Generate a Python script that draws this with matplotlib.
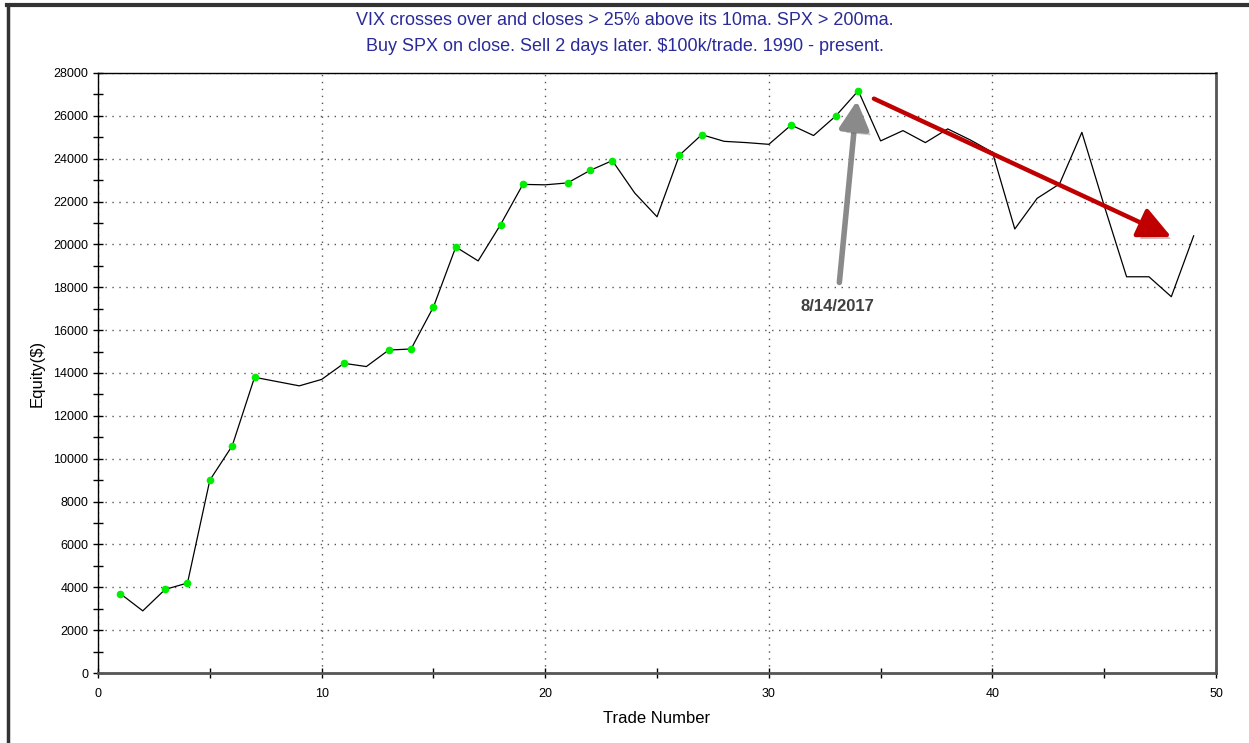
import matplotlib
matplotlib.use("Agg")
import matplotlib.pyplot as plt
import matplotlib.patheffects as pe
from matplotlib.lines import Line2D

plt.rcParams['font.family'] = ['Liberation Sans', 'DejaVu Sans']

# Equity curve, one value per trade
trades = list(range(1, 50))
equity = [3700, 2900, 3900, 4200, 9000, 10600, 13800, 13600, 13400, 13700,
          14450, 14300, 15070, 15120, 17080, 19880, 19230, 20920, 22800, 22780,
          22870, 23450, 23910, 22400, 21290, 24160, 25120, 24810, 24750, 24670,
          25570, 25080, 26000, 27170, 24830, 25310, 24750, 25390, 24880, 24300,
          20720, 22150, 22820, 25230, 21800, 18490, 18490, 17560, 20400]
# trades that set a new equity high (green dots)
new_highs = [1, 3, 4, 5, 6, 7, 11, 13, 14, 15, 16, 18, 19, 21, 22, 23, 26, 27, 31, 33, 34]

title_lines = ["VIX crosses over and closes > 25% above its 10ma. SPX > 200ma.",
               "Buy SPX on close. Sell 2 days later. $100k/trade. 1990 - present."]
note_text = "8/14/2017"
note_trade = 34

fig = plt.figure(figsize=(12.49, 7.43), dpi=100)
ax = fig.add_axes([0.0785, 0.0942, 0.8951, 0.8076])

ax.plot(trades, equity, color='black', lw=0.9, zorder=3)
hx = [t for t in new_highs]
hy = [equity[t - 1] for t in new_highs]
ax.plot(hx, hy, 'o', color='#00ee00', markersize=4.5, zorder=4)

ax.set_xlim(0, 50)
ax.set_ylim(0, 28000)
ax.set_xticks(range(0, 51, 10))
ax.set_xticks(range(0, 51, 5), minor=True)
ax.set_yticks(range(0, 28001, 2000))
ax.set_yticks(range(0, 28001, 1000), minor=True)
ax.tick_params(which='both', direction='inout', length=7, width=1, labelsize=9)
ax.tick_params(axis='x', pad=7)
ax.grid(True, which='major', linestyle=(0, (1, 4)), color='#555555', lw=1)

for s in ['left', 'top']:
    ax.spines[s].set_linewidth(1)
for s in ['right', 'bottom']:
    ax.spines[s].set_linewidth(2)
    ax.spines[s].set_color('#555555')

ax.set_xlabel("Trade Number", fontsize=12, labelpad=8)
ax.set_ylabel("Equity($)", fontsize=12, labelpad=6)

fig.text(0.5, 0.972, title_lines[0], ha='center', va='center', fontsize=13,
         color='#2a2a9a')
fig.text(0.5, 0.938, title_lines[1], ha='center', va='center', fontsize=13,
         color='#2a2a9a')

shadow = [pe.SimplePatchShadow(offset=(3, -3), alpha=0.25), pe.Normal()]

# red downtrend arrow
ax.annotate("", xy=(48.0, 20350), xytext=(34.7, 26800),
            arrowprops=dict(arrowstyle='-|>,head_length=2.0,head_width=0.95',
                            color='#c00000', lw=3.2, shrinkA=0, shrinkB=0,
                            path_effects=shadow), zorder=5)

# gray arrow pointing at the peak
ax.annotate(note_text, xy=(note_trade - 0.06, 26700), xytext=(33.05, 17100),
            ha='center', va='center', fontsize=12, fontweight='bold', color='#404040',
            arrowprops=dict(arrowstyle='-|>,head_length=1.4,head_width=0.75',
                            color='#8a8a8a', lw=4, shrinkA=10, shrinkB=0,
                            path_effects=shadow), zorder=5)

# outer frame lines of the original screenshot
fig.add_artist(Line2D([7 / 1249, 1], [1 - 5 / 743, 1 - 5 / 743], color='#333333', lw=3,
                      transform=fig.transFigure))
fig.add_artist(Line2D([8 / 1249, 8 / 1249], [0, 1 - 5 / 743], color='#333333', lw=2.5,
                      transform=fig.transFigure))

fig.savefig("out.png", dpi=100)
